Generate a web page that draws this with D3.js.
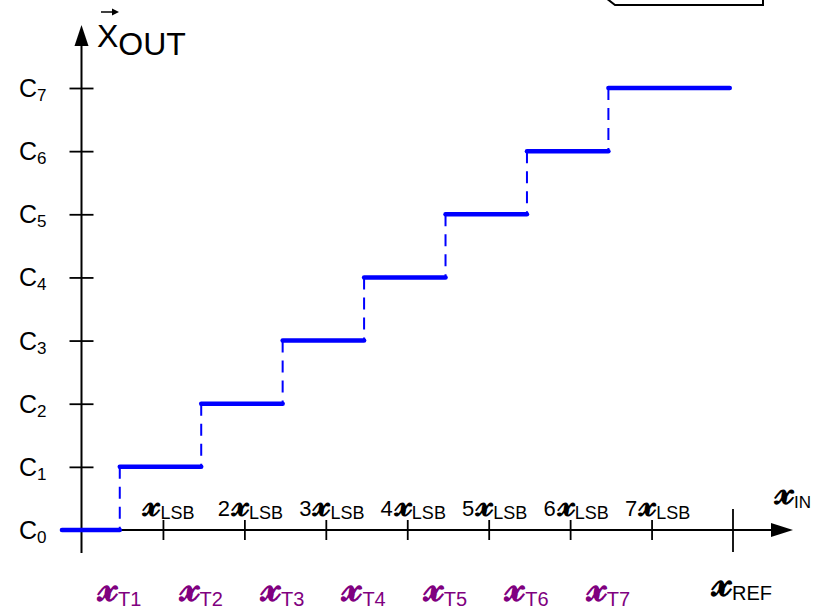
<!DOCTYPE html>
<html><head><meta charset="utf-8">
<script src="https://cdn.jsdelivr.net/npm/d3@7"></script>
<style>body{margin:0;background:#fff}svg{display:block}</style>
</head><body>
<svg id="c" width="817" height="612"></svg>
<script>
// ---- data ----
const levels = [0, 1, 2, 3, 4, 5, 6, 7];
const levelLabels = ["0", "1", "2", "3", "4", "5", "6", "7"];
const stepStarts = [-0.24, 0.47, 1.47, 2.47, 3.47, 4.47, 5.47, 6.47];
const stepEnds = [0.47, 1.47, 2.47, 3.47, 4.47, 5.47, 6.47, 7.96];
const xTicks = [1, 2, 3, 4, 5, 6, 7];
const xTickPrefix = ["", "2", "3", "4", "5", "6", "7"];
const refValue = 8;
const transitionLabels = ["T1", "T2", "T3", "T4", "T5", "T6", "T7"];
const SX = "\u{1D4CD}"; // script x

// ---- layout ----
const svg = d3.select("#c");
const font = "'Liberation Sans', Arial, sans-serif";
const scriptFont = "'DejaVu Serif', 'DejaVu Sans', serif";
const x = d3.scaleLinear().domain([0, 8]).range([81.5, 733]);
const y = d3.scaleLinear().domain([0, 7]).range([530, 88]);
const x0 = x(0), y0 = y(0);

// top-right partial box
svg.append("path").attr("d", "M606,-2 L615,5 L763,5 L763,-2")
  .attr("fill", "#fff").attr("stroke", "#000").attr("stroke-width", 2);

// axes lines
svg.append("line").attr("x1", x0).attr("x2", x0).attr("y1", 45).attr("y2", 553)
  .attr("stroke", "#000").attr("stroke-width", 2);
svg.append("path").attr("d", `M${x0},25 L${x0-7},46 L${x0+7},46 Z`).attr("fill", "#000");
svg.append("line").attr("x1", x0).attr("x2", 772).attr("y1", y0).attr("y2", y0)
  .attr("stroke", "#000").attr("stroke-width", 2);
svg.append("path").attr("d", `M793,${y0} L771,${y0-7} L771,${y0+7} Z`).attr("fill", "#000");

// y axis ticks via d3 axis
const yAxis = svg.append("g").attr("transform", `translate(${x0},0)`)
  .call(d3.axisLeft(y).tickValues(levels).tickSize(12).tickFormat(""));
yAxis.select(".domain").remove();
yAxis.selectAll(".tick line").attr("x1", -12).attr("x2", 12)
  .attr("stroke", "#000").attr("stroke-width", 1.8);

// x axis ticks
const xAxis = svg.append("g").attr("transform", `translate(0,${y0})`)
  .call(d3.axisBottom(x).tickValues(xTicks).tickSize(10).tickFormat(""));
xAxis.select(".domain").remove();
xAxis.selectAll(".tick line").attr("y1", -10).attr("y2", 10)
  .attr("stroke", "#000").attr("stroke-width", 1.8);
svg.append("line").attr("x1", x(refValue)).attr("x2", x(refValue))
  .attr("y1", y0 - 21).attr("y2", y0 + 22).attr("stroke", "#000").attr("stroke-width", 1.8);

// y labels
levels.forEach((v, i) => {
  const t = svg.append("text").attr("x", 19).attr("y", y(v) + 9)
    .attr("font-family", font).attr("font-size", 25).attr("fill", "#000");
  t.append("tspan").text("C");
  t.append("tspan").attr("font-size", 17).attr("dy", 4).text(levelLabels[i]);
});

// x tick labels
xTicks.forEach((v, i) => {
  const t = svg.append("text").attr("x", x(v) + 6).attr("y", y0 - 14)
    .attr("text-anchor", "middle").attr("font-family", font).attr("font-size", 22).attr("fill", "#000");
  if (xTickPrefix[i]) t.append("tspan").text(xTickPrefix[i]);
  t.append("tspan").attr("font-family", scriptFont).attr("font-size", 36).attr("font-weight", "bold")
    .attr("dx", xTickPrefix[i] ? 2 : 0).text(SX);
  t.append("tspan").attr("font-size", 18).attr("dy", 3).text("LSB");
});

// transition labels
transitionLabels.forEach((lab, i) => {
  const t = svg.append("text").attr("x", x(stepEnds[i])).attr("y", 601)
    .attr("text-anchor", "middle").attr("font-family", font).attr("fill", "#800080");
  t.append("tspan").attr("font-family", scriptFont).attr("font-size", 42).attr("font-weight", "bold").text(SX);
  t.append("tspan").attr("font-size", 20).attr("dy", 5).text(lab);
});

// REF label
{
  const t = svg.append("text").attr("x", x(refValue) + 9).attr("y", 596)
    .attr("text-anchor", "middle").attr("font-family", font).attr("fill", "#000");
  t.append("tspan").attr("font-family", scriptFont).attr("font-size", 42).attr("font-weight", "bold").text(SX);
  t.append("tspan").attr("font-size", 20).attr("dy", 4).text("REF");
}
// x_IN
{
  const t = svg.append("text").attr("x", 775).attr("y", 504)
    .attr("font-family", font).attr("fill", "#000");
  t.append("tspan").attr("font-family", scriptFont).attr("font-size", 40).attr("font-weight", "bold").text(SX);
  t.append("tspan").attr("font-size", 17).attr("dy", 4).text("IN");
}
// X_OUT title
{
  const t = svg.append("text").attr("x", 97).attr("y", 47)
    .attr("font-family", font).attr("font-size", 32).attr("fill", "#000");
  t.append("tspan").text("X");
  t.append("tspan").attr("dy", 8).text("OUT");
  svg.append("line").attr("x1", 101).attr("x2", 114).attr("y1", 12).attr("y2", 12)
    .attr("stroke", "#000").attr("stroke-width", 1.5);
  svg.append("path").attr("d", "M119,12 L112,8.5 L112,15.5 Z").attr("fill", "#000");
}

// steps
const blue = "#0000ff";
svg.append("g").selectAll("line.step").data(levels).join("line")
  .attr("x1", (d, i) => x(stepStarts[i])).attr("x2", (d, i) => x(stepEnds[i]))
  .attr("y1", d => y(d)).attr("y2", d => y(d))
  .attr("stroke", blue).attr("stroke-width", 4.5).attr("stroke-linecap", "round");
svg.append("g").selectAll("line.riser").data(levels.slice(1)).join("line")
  .attr("x1", (d, i) => x(stepEnds[i])).attr("x2", (d, i) => x(stepEnds[i]))
  .attr("y1", d => y(d)).attr("y2", d => y(d - 1))
  .attr("stroke", blue).attr("stroke-width", 2).attr("stroke-dasharray", "12,8");
</script>
</body></html>
